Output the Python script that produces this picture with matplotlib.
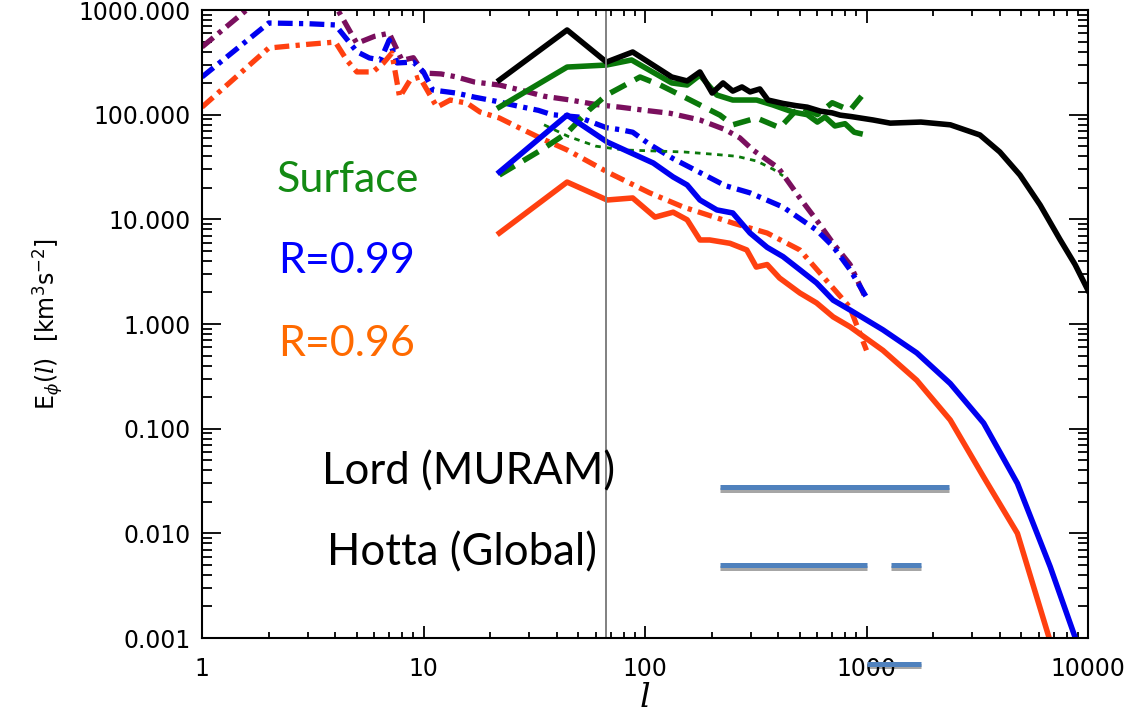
import matplotlib
matplotlib.use('Agg')
import matplotlib.pyplot as plt
import matplotlib.patheffects as pe
from matplotlib.ticker import LogLocator, FixedLocator, FormatStrFormatter, NullFormatter

plt.rcParams['mathtext.fontset'] = 'custom'
plt.rcParams['mathtext.it'] = 'DejaVu Serif:italic'
plt.rcParams['mathtext.rm'] = 'DejaVu Sans'

# --- data ---
black_l = [22, 44.5, 67, 88, 132, 155, 177, 201, 225, 249, 274, 298, 330, 359, 420, 480, 540,
           620, 700, 760, 850, 1070, 1280, 1760, 2390, 3250, 4000, 4930, 6080, 7480, 8740, 10000]
black_E = [214, 644, 318, 397, 229, 210, 256, 161, 201, 168, 184, 165, 176, 138, 128, 122, 118,
           108, 104, 99, 96, 89, 83, 85, 80, 64, 44, 26.5, 13.7, 6.4, 3.7, 2.1]

green_l = [22, 44.5, 67, 87, 132, 155, 177, 211, 249, 319, 377, 465, 540, 600, 650, 720, 800, 880, 935]
green_E = [118, 285, 298, 333, 201, 192, 239, 154, 138, 138, 124, 106, 100, 85, 95, 78, 82, 68, 66]

green_dash_l = [22, 34, 44.5, 56, 67, 95, 117, 160, 218, 249, 319, 406, 500, 600, 700, 843, 950]
green_dash_E = [26.5, 46, 67, 111, 154, 229, 192, 138, 99, 80, 93, 75, 120, 100, 130, 110, 150]

green_dot_l = [35, 45, 60, 80, 110, 150, 200, 260, 320, 380, 420]
green_dot_E = [80, 62, 50, 46, 45, 44, 42, 40, 36, 30, 26]

blue_l = [22, 44.5, 67.5, 109, 134, 155, 177, 211, 249, 298, 356, 420, 500, 595, 707, 843,
          1186, 1686, 2388, 3380, 4800, 6750, 8740]
blue_E = [28.3, 99, 54.8, 34.5, 25.4, 21.3, 15.3, 12.3, 11.5, 7.4, 5.4, 4.4, 3.3, 2.47, 1.69, 1.36,
          0.88, 0.53, 0.27, 0.113, 0.030, 0.0048, 0.00102]

orange_l = [22, 44.5, 67.5, 88, 111, 134, 155, 177, 196, 242, 288, 318, 356, 405, 500, 595, 707, 843,
            1186, 1686, 2388, 3380, 4800, 6660]
orange_E = [7.4, 22.7, 15.3, 16.0, 10.5, 11.7, 9.9, 6.35, 6.35, 5.9, 5.1, 3.5, 3.7, 2.75, 1.98, 1.59,
            1.17, 0.94, 0.56, 0.29, 0.121, 0.0345, 0.010, 0.00102]

purple_dd_l = [1, 2, 3, 4, 5, 6, 7, 8, 9, 10, 12, 14, 17, 22, 28, 35, 46, 60, 77, 100, 130, 177,
               230, 268, 307, 400, 500, 600, 707, 843, 1000]
purple_dd_E = [443, 1500, 1500, 1100, 480, 560, 600, 330, 350, 250, 245, 230, 205, 192, 170, 150, 138,
               125, 118, 110, 103, 89, 72, 60, 46, 31, 16, 9.6, 5.9, 3.7, 1.7]

blue_dd_l = [1, 2, 3, 4, 5, 5.7, 6.4, 7, 7.6, 9, 10, 11, 14, 17, 21, 27, 33, 38, 50, 67, 77, 88,
             105, 134, 177, 230, 298, 420, 595, 707, 843, 1000]
blue_dd_E = [229, 751, 740, 720, 400, 348, 333, 517, 312, 318, 256, 172, 161, 147, 135, 120, 110, 100,
             95, 75, 72, 68, 52, 38, 28, 21, 17.9, 13.1, 7.9, 5.5, 3.3, 1.8]

orange_dd_l = [1, 2, 3, 4, 4.5, 5, 5.9, 6.6, 7.2, 7.8, 8.7, 9.6, 11.5, 13.2, 15.7, 18, 22, 27, 33.6,
               44.5, 69, 105, 149, 250, 356, 500, 640, 840, 1000]
orange_dd_E = [118, 433, 470, 494, 333, 256, 256, 312, 388, 147, 214, 229, 118, 138, 129, 106, 93, 75,
               60, 46, 27.7, 17.9, 13.1, 9.2, 7.4, 5.1, 2.8, 1.45, 0.56]

l_mark = 66.7
lord_l = [218, 2356]
lord_E = 0.0277
hotta_l = [[218, 1005], [1291, 1762]]
hotta_E = 0.005
extra_l = [1005, 1762]
extra_E = 0.00057

ytick_vals = [0.001, 0.01, 0.1, 1, 10, 100, 1000]
xtick_vals = [1, 10, 100, 1000, 10000]

# --- figure ---
fig = plt.figure(figsize=(11.35, 7.15), dpi=100)
ax = fig.add_axes([202 / 1135, 1 - 638 / 715, (1088 - 202) / 1135, (638 - 10) / 715])
ax.set_xscale('log')
ax.set_yscale('log')
ax.set_xlim(1, 10000)
ax.set_ylim(0.001, 1000)

c_green = '#0a780a'
c_blue = '#0000f0'
c_orange = '#ff4010'
c_purple = '#7a0f5e'

dd = (0, (2.8, 1.2, 0.8, 1.2))
ax.plot(purple_dd_l, purple_dd_E, color=c_purple, lw=3.8, ls=dd)
ax.plot(blue_dd_l, blue_dd_E, color=c_blue, lw=3.8, ls=dd)
ax.plot(orange_dd_l, orange_dd_E, color=c_orange, lw=3.8, ls=dd)
ax.plot(green_dot_l, green_dot_E, color=c_green, lw=2.0, ls=(0, (2, 2)))
ax.plot(green_dash_l, green_dash_E, color=c_green, lw=4, ls=(0, (3.2, 1.8)))
ax.plot(orange_l, orange_E, color=c_orange, lw=4)
ax.plot(blue_l, blue_E, color=c_blue, lw=4)
ax.plot(green_l, green_E, color=c_green, lw=4)
ax.plot(black_l, black_E, color='black', lw=4)

ax.axvline(l_mark, color='#808080', lw=1.4)

shadow = [pe.SimpleLineShadow(offset=(0, -2), alpha=0.35), pe.Normal()]
ax.plot(lord_l, [lord_E, lord_E], color='#4f81bd', lw=3.6, solid_capstyle='butt', path_effects=shadow)
for seg in hotta_l:
    ax.plot(seg, [hotta_E, hotta_E], color='#4f81bd', lw=3.6, solid_capstyle='butt', path_effects=shadow)
ax.plot(extra_l, [extra_E, extra_E], color='#4f81bd', lw=3.6, solid_capstyle='butt',
        path_effects=shadow, clip_on=False)

# axes styling
for s in ax.spines.values():
    s.set_linewidth(1.5)
ax.xaxis.set_major_locator(FixedLocator(xtick_vals))
ax.yaxis.set_major_locator(FixedLocator(ytick_vals))
ax.xaxis.set_minor_locator(LogLocator(base=10, subs=range(2, 10), numticks=20))
ax.yaxis.set_minor_locator(LogLocator(base=10, subs=range(2, 10), numticks=20))
ax.xaxis.set_major_formatter(FormatStrFormatter('%d'))
ax.yaxis.set_major_formatter(FormatStrFormatter('%.3f'))
ax.xaxis.set_minor_formatter(NullFormatter())
ax.yaxis.set_minor_formatter(NullFormatter())
ax.tick_params(which='both', direction='in', top=True, right=True, labelsize=17, width=1.3)
ax.tick_params(axis='x', which='major', length=9, pad=14)
ax.tick_params(axis='x', which='minor', length=4.5)
ax.tick_params(axis='y', which='major', length=14, pad=8)
ax.tick_params(axis='y', which='minor', length=7)

ax.set_xlabel('$l$', fontsize=24, labelpad=0)
ax.set_ylabel(r'E$_{\phi}$($l$)  [km$^3$s$^{-2}$]', fontsize=17, labelpad=10)

tf = dict(transform=fig.transFigure, family=['Lato', 'DejaVu Sans'], ha='left', va='center')
fig.text(277 / 1135, 1 - 180 / 715, 'Surface', color='#138a13', fontsize=31, **tf)
fig.text(278 / 1135, 1 - 261 / 715, 'R=0.99', color='#0000ff', fontsize=31, **tf)
fig.text(278 / 1135, 1 - 344 / 715, 'R=0.96', color='#ff6a00', fontsize=31, **tf)
fig.text(322 / 1135, 1 - 472 / 715, 'Lord (MURAM)', color='black', fontsize=31.5, **tf)
fig.text(327 / 1135, 1 - 553 / 715, 'Hotta (Global)', color='black', fontsize=31.5, **tf)

fig.savefig('out.png', dpi=100)
